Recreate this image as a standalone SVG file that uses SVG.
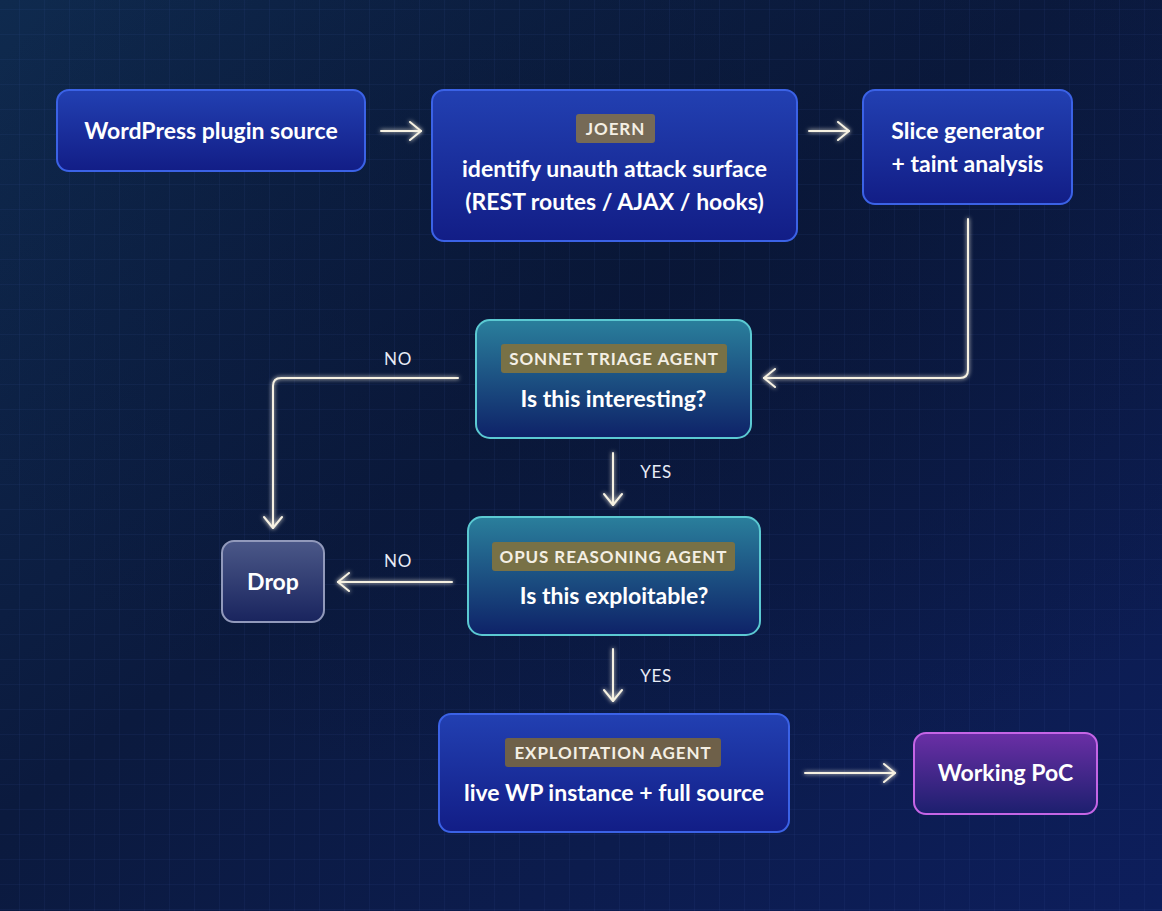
<svg xmlns="http://www.w3.org/2000/svg" width="1162" height="911" viewBox="0 0 1162 911">
<defs>
<linearGradient id="bg" x1="0" y1="0" x2="1" y2="1">
<stop offset="0" stop-color="#0f2a4e"/>
<stop offset="0.45" stop-color="#0b1a3e"/>
<stop offset="1" stop-color="#0d1e5c"/>
</linearGradient>
<radialGradient id="bgr" cx="0.55" cy="0.3" r="0.6">
<stop offset="0" stop-color="#081432" stop-opacity="0.6"/>
<stop offset="1" stop-color="#081432" stop-opacity="0"/>
</radialGradient>
<pattern id="grid" width="25" height="25" patternUnits="userSpaceOnUse" x="20" y="10">
<path d="M25 0V25M0 25H25" fill="none" stroke="#3a5aa8" stroke-opacity="0.2" stroke-width="1"/>
</pattern>
<linearGradient id="gBlue" x1="0" y1="0" x2="0" y2="1">
<stop offset="0" stop-color="#2240b2"/>
<stop offset="1" stop-color="#121d86"/>
</linearGradient>
<linearGradient id="gTeal" x1="0" y1="0" x2="0" y2="1">
<stop offset="0" stop-color="#2a7f9c"/>
<stop offset="1" stop-color="#0e2268"/>
</linearGradient>
<linearGradient id="gDrop" x1="0" y1="0" x2="0" y2="1">
<stop offset="0" stop-color="#4b5888"/>
<stop offset="1" stop-color="#19245e"/>
</linearGradient>
<linearGradient id="gPurple" x1="0" y1="0" x2="0" y2="1">
<stop offset="0" stop-color="#6b2fa6"/>
<stop offset="1" stop-color="#1c1f6e"/>
</linearGradient>
<filter id="glow" x="-20%" y="-20%" width="140%" height="140%">
<feGaussianBlur stdDeviation="2" result="b"/>
<feMerge><feMergeNode in="b"/><feMergeNode in="SourceGraphic"/></feMerge>
</filter>
<marker id="arr" viewBox="0 0 20 20" refX="18" refY="10" markerWidth="20" markerHeight="20" markerUnits="userSpaceOnUse" orient="auto">
<path d="M7 1L18 10L7 19" fill="none" stroke="#f6f1e2" stroke-width="2" stroke-linecap="round" stroke-linejoin="round"/>
</marker>
</defs>
<style>
.title{font-family:Lato,"Liberation Sans",sans-serif;font-weight:700;font-size:23px;fill:#ffffff;text-anchor:middle}
.badge{font-family:Lato,"Liberation Sans",sans-serif;font-weight:700;font-size:17px;fill:#f4efe4;text-anchor:middle;letter-spacing:0.9px}
.lbl{font-family:Lato,"Liberation Sans",sans-serif;font-weight:400;font-size:17px;fill:#e8ecf6;text-anchor:middle;letter-spacing:0.6px}
.edge{fill:none;stroke:#f6f1e2;stroke-width:2;stroke-linecap:round;stroke-linejoin:round;marker-end:url(#arr)}
.blue{fill:url(#gBlue);stroke:#3b62e6;stroke-width:2}
.teal{fill:url(#gTeal);stroke:#5bc9d2;stroke-width:2}
</style>
<rect width="1162" height="911" fill="url(#bg)"/>
<rect width="1162" height="911" fill="url(#bgr)"/>
<rect width="1162" height="911" fill="url(#grid)"/>

<g id="connectors" filter="url(#glow)">
<path class="edge" d="M381 131H421"/>
<path class="edge" d="M809 131H849"/>
<path class="edge" d="M968 219V370Q968 378 960 378H764"/>
<path class="edge" d="M458 378H281Q273 378 273 386V528"/>
<path class="edge" d="M613 453V505"/>
<path class="edge" d="M452 582H338"/>
<path class="edge" d="M613 649V701"/>
<path class="edge" d="M805 773H895"/>
</g>
<g id="edge-labels">
<text class="lbl" x="398" y="365">NO</text>
<text class="lbl" x="656" y="478">YES</text>
<text class="lbl" x="398" y="567">NO</text>
<text class="lbl" x="656" y="682">YES</text>
</g>

<g id="node-source">
<rect class="blue" x="57" y="90" width="308" height="81" rx="12"/>
<text class="title" x="211" y="139">WordPress plugin source</text>
</g>
<g id="node-joern">
<rect class="blue" x="432" y="90" width="365" height="151" rx="12"/>
<rect x="576" y="114" width="79" height="29" rx="3" fill="#766a56"/>
<text class="badge" x="615.5" y="134.5">JOERN</text>
<text class="title" x="614.5" y="177">identify unauth attack surface</text>
<text class="title" x="614.5" y="210">(REST routes / AJAX / hooks)</text>
</g>
<g id="node-slice">
<rect class="blue" x="863" y="90" width="209" height="114" rx="12"/>
<text class="title" x="967.5" y="139">Slice generator</text>
<text class="title" x="967.5" y="172">+ taint analysis</text>
</g>
<g id="node-sonnet">
<rect class="teal" x="476" y="320" width="275" height="118" rx="14"/>
<rect x="501" y="344" width="226" height="29" rx="3" fill="#787146"/>
<text class="badge" x="614" y="364.5">SONNET TRIAGE AGENT</text>
<text class="title" x="613.5" y="407">Is this interesting?</text>
</g>
<g id="node-opus">
<rect class="teal" x="468" y="517" width="292" height="118" rx="14"/>
<rect x="492" y="542" width="243" height="29" rx="3" fill="#787146"/>
<text class="badge" x="613.5" y="562.5">OPUS REASONING AGENT</text>
<text class="title" x="614" y="604">Is this exploitable?</text>
</g>
<g id="node-drop">
<rect x="222" y="541" width="102" height="81" rx="12" fill="url(#gDrop)" stroke="#9199bb" stroke-width="2"/>
<text class="title" x="273" y="590">Drop</text>
</g>
<g id="node-exploit">
<rect class="blue" x="439" y="714" width="350" height="118" rx="12"/>
<rect x="505" y="738" width="216" height="29" rx="3" fill="#6e6049"/>
<text class="badge" x="613" y="758.5">EXPLOITATION AGENT</text>
<text class="title" x="614" y="801">live WP instance + full source</text>
</g>
<g id="node-poc">
<rect x="914" y="733" width="183" height="81" rx="12" fill="url(#gPurple)" stroke="#c565e6" stroke-width="2"/>
<text class="title" x="1005.5" y="781">Working PoC</text>
</g>
</svg>
